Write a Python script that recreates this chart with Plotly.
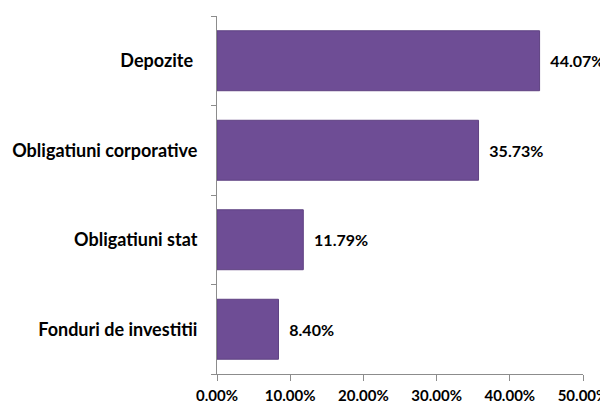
import plotly.graph_objects as go

categories = ["Fonduri de investitii", "Obligatiuni stat", "Obligatiuni corporative", "Depozite\u00a0"]
values = [8.40, 11.79, 35.73, 44.07]
x_ticks = [0, 10, 20, 30, 40, 50]
x_tick_labels = [f"{v:.2f}%" for v in x_ticks]

fig = go.Figure(go.Bar(
    y=categories,
    x=values,
    orientation="h",
    marker=dict(color="#6e4d95", line=dict(color="#5f4282", width=1)),
    text=[f"{v:.2f}%" for v in values],
    texttemplate="  %{text}",
    textposition="outside",
    constraintext="none",
    textfont=dict(family="Lato", size=16, color="#000000", weight="bold"),
    cliponaxis=False,
))

# page body has an 8px margin, so the figure is sized 600x395
fig.update_layout(
    width=600, height=395,
    margin=dict(l=209, r=25, t=8, b=29, autoexpand=False),
    paper_bgcolor="white", plot_bgcolor="white",
    bargap=0.33,
    showlegend=False,
    xaxis=dict(
        range=[0, 50], tickmode="array", tickvals=x_ticks, ticktext=x_tick_labels,
        showgrid=False, zeroline=False, automargin=False,
        showline=True, linecolor="#8c8c8c", linewidth=1,
        ticks="outside", ticklen=6, tickcolor="#8c8c8c",
        ticklabeloverflow="allow", ticklabelstandoff=2,
        tickfont=dict(family="Lato", size=15, color="#000000", weight="bold"),
    ),
    yaxis=dict(
        showgrid=False, zeroline=False, automargin=False,
        showline=True, linecolor="#8c8c8c", linewidth=1,
        ticks="outside", ticklen=5, tickcolor="#8c8c8c", tickson="boundaries",
        ticklabelstandoff=15,
        tickfont=dict(family="Lato", size=18, color="#000000", weight="bold"),
    ),
)

fig.write_html("out.html")
